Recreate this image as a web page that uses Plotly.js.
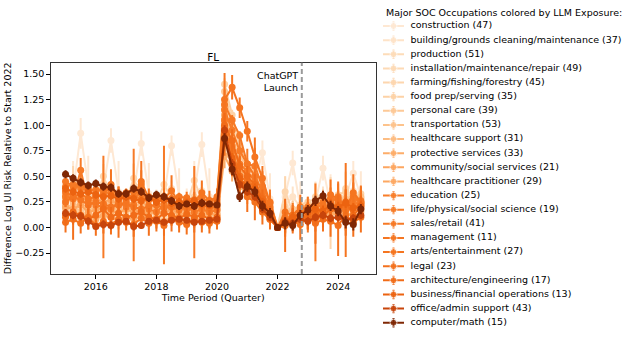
<!DOCTYPE html>
<html>
<head>
<meta charset="utf-8">
<script src="https://cdn.plot.ly/plotly-3.0.1.min.js"></script>
<style>
  html, body { margin: 0; padding: 0; background: #fff; }
  #chart { width: 634px; height: 337px; }
</style>
</head>
<body>
<div id="chart"></div>
<script>
// quarterly time points (fractional year)
const quarters = [2015.0, 2015.25, 2015.5, 2015.75, 2016.0, 2016.25, 2016.5, 2016.75,
    2017.0, 2017.25, 2017.5, 2017.75, 2018.0, 2018.25, 2018.5, 2018.75,
    2019.0, 2019.25, 2019.5, 2019.75, 2020.0, 2020.25, 2020.5, 2020.75,
    2021.0, 2021.25, 2021.5, 2021.75, 2022.0, 2022.25, 2022.5, 2022.75,
    2023.0, 2023.25, 2023.5, 2023.75, 2024.0, 2024.25, 2024.5, 2024.75];

const chatgptLaunch = 2022.8;

// occupations, ordered from lowest to highest LLM exposure
const occupations = [
    'construction (47)', 'building/grounds cleaning/maintenance (37)', 'production (51)',
    'installation/maintenance/repair (49)', 'farming/fishing/forestry (45)', 'food prep/serving (35)',
    'personal care (39)', 'transportation (53)', 'healthcare support (31)', 'protective services (33)',
    'community/social services (21)', 'healthcare practitioner (29)', 'education (25)',
    'life/physical/social science (19)', 'sales/retail (41)', 'management (11)',
    'arts/entertainment (27)', 'legal (23)', 'architecture/engineering (17)',
    'business/financial operations (13)', 'office/admin support (43)', 'computer/math (15)'
];

const colors = [
    '#fee8d3', '#fee3c8', '#fddcb9', '#fddab5', '#fdd6ae', '#fdd2a6',
    '#fdc997', '#fdc38c', '#fdbd83', '#fdad69', '#fda660', '#fda862',
    '#f87d29', '#f77b27', '#f67925', '#f57622', '#f57520', '#f3711d',
    '#f16c18', '#ec6310', '#c8450b', '#7f2704'
];

// difference in log UI risk relative to start of 2022
const construction   = [0.20,0.35,0.92,0.40, 0.30,0.38,0.85,0.35, 0.28,0.35,0.82,0.33, 0.25,0.30,0.80,0.30, 0.28,0.35,0.81,0.30, 0.28,0.98,0.80,0.55, 0.48,0.45,0.73,0.28, 0.00,0.30,0.63,0.20, 0.12,0.25,0.58,0.22, 0.20,0.30,0.53,0.30];
const building       = [0.35,0.30,0.45,0.28, 0.32,0.28,0.42,0.26, 0.30,0.27,0.40,0.25, 0.28,0.26,0.38,0.24, 0.27,0.25,0.36,0.23, 0.25,1.22,0.92,0.68, 0.55,0.48,0.45,0.25, 0.00,0.22,0.30,0.20, 0.18,0.24,0.30,0.22, 0.26,0.30,0.36,0.28];
const production     = [0.20,0.18,0.25,0.15, 0.19,0.16,0.22,0.14, 0.17,0.15,0.21,0.13, 0.16,0.14,0.20,0.12, 0.15,0.13,0.18,0.12, 0.14,1.00,0.72,0.50, 0.42,0.35,0.24,0.11, 0.00,0.08,0.12,0.13, 0.15,0.18,0.21,0.17, 0.22,0.20,0.25,0.21];
const installation   = [0.15,0.12,0.18,0.10, 0.13,0.10,0.16,0.09, 0.12,0.09,0.15,0.08, 0.11,0.08,0.14,0.08, 0.10,0.07,0.13,0.07, 0.09,0.90,0.62,0.42, 0.35,0.30,0.20,0.09, 0.00,0.06,0.09,0.11, 0.13,0.15,0.17,0.14, 0.18,0.16,0.20,0.17];
const farming        = [0.25,0.45,0.30,0.20, 0.28,0.50,0.32,0.22, 0.26,0.48,0.30,0.20, 0.24,0.42,0.28,0.18, 0.22,0.46,0.27,0.20, 0.23,0.80,0.60,0.45, 0.40,0.55,0.38,0.20, 0.00,0.35,0.15,0.10, 0.12,0.30,0.18,0.14, 0.16,0.38,0.20,0.18];
const foodPrep       = [0.30,0.35,0.28,0.32, 0.30,0.34,0.27,0.30, 0.28,0.33,0.26,0.29, 0.27,0.31,0.25,0.28, 0.26,0.30,0.24,0.27, 0.25,1.40,1.10,0.78, 0.62,0.55,0.40,0.22, 0.00,0.20,0.16,0.22, 0.25,0.28,0.30,0.26, 0.32,0.35,0.28,0.33];
const personalCare   = [0.18,0.22,0.15,0.20, 0.16,0.20,0.14,0.18, 0.15,0.19,0.13,0.16, 0.14,0.18,0.12,0.16, 0.13,0.17,0.11,0.15, 0.12,1.33,1.00,0.70, 0.60,0.52,0.35,0.16, 0.00,0.14,0.18,0.20, 0.22,0.25,0.28,0.24, 0.30,0.26,0.32,0.28];
const transportation = [0.22,0.20,0.24,0.18, 0.20,0.17,0.21,0.16, 0.18,0.15,0.20,0.14, 0.17,0.14,0.19,0.13, 0.15,0.12,0.17,0.12, 0.14,1.20,0.80,0.58, 0.50,0.42,0.30,0.15, 0.00,0.12,0.10,0.16, 0.18,0.22,0.20,0.26, 0.24,0.28,0.22,0.30];
const healthSupport  = [0.28,0.25,0.30,0.22, 0.26,0.22,0.25,0.20, 0.23,0.20,0.24,0.18, 0.21,0.19,0.22,0.17, 0.19,0.16,0.20,0.15, 0.16,1.15,0.75,0.52, 0.45,0.38,0.26,0.12, 0.00,0.10,0.08,0.14, 0.16,0.20,0.18,0.24, 0.22,0.26,0.20,0.25];
const protective     = [0.12,0.15,0.10,0.13, 0.08,0.12,0.10,0.06, 0.10,0.08,0.11,0.07, 0.09,0.06,0.10,0.08, 0.05,0.09,0.07,0.06, 0.08,0.70,0.55,0.40, 0.32,0.28,0.18,0.08, 0.00,0.03,0.06,0.10, 0.08,0.12,0.10,0.14, 0.12,0.16,0.10,0.15];
const community      = [0.32,0.28,0.30,0.26, 0.28,0.25,0.27,0.22, 0.25,0.23,0.26,0.20, 0.22,0.24,0.21,0.18, 0.20,0.22,0.19,0.17, 0.18,1.05,0.78,0.55, 0.48,0.40,0.26,0.12, 0.00,0.04,0.10,0.08, 0.12,0.16,0.13,0.20, 0.18,0.22,0.16,0.24];
const healthPract    = [0.20,0.18,0.22,0.15, 0.17,0.20,0.16,0.14, 0.18,0.15,0.17,0.13, 0.16,0.14,0.18,0.12, 0.15,0.13,0.16,0.14, 0.12,1.10,0.70,0.45, 0.40,0.35,0.22,0.10, 0.00,0.08,0.05,0.10, 0.14,0.12,0.18,0.15, 0.20,0.15,0.22,0.18];
const education      = [0.40,0.42,0.38,0.36, 0.37,0.35,0.33,0.30, 0.32,0.30,0.28,0.27, 0.29,0.27,0.26,0.24, 0.26,0.24,0.25,0.23, 0.22,1.05,0.80,0.62, 0.55,0.45,0.30,0.18, 0.00,0.10,0.08,0.15, 0.18,0.20,0.22,0.19, 0.24,0.20,0.25,0.22];
const lifeSci        = [0.30,0.28,0.56,0.25, 0.22,0.20,0.18,0.25, 0.20,0.22,0.42,0.18, 0.15,0.22,0.20,0.17, 0.20,0.15,0.18,0.15, 0.17,1.15,0.95,0.75, 0.62,0.60,0.40,0.25, 0.00,0.06,0.10,0.14, 0.10,0.05,0.15,0.25, 0.30,0.17,0.28,0.26];
const sales          = [0.45,0.40,0.42,0.38, 0.36,0.38,0.35,0.33, 0.34,0.35,0.33,0.30, 0.31,0.30,0.28,0.30, 0.29,0.27,0.28,0.26, 0.27,1.20,1.05,0.90, 0.62,0.50,0.35,0.20, 0.00,0.08,0.12,0.18, 0.20,0.22,0.25,0.28, 0.26,0.23,0.30,0.24];
const management     = [0.25,0.30,0.27,0.22, 0.25,0.23,0.20,0.22, 0.24,0.20,0.18,0.21, 0.22,0.19,0.20,0.23, 0.18,0.20,0.22,0.19, 0.20,0.95,0.75,0.50, 0.45,0.40,0.30,0.15, 0.00,0.05,0.07,0.10, 0.12,0.15,0.18,0.20, 0.22,0.18,0.20,0.23];
const arts           = [0.35,0.30,0.33,0.28, 0.30,0.32,0.42,0.30, 0.27,0.30,0.45,0.28, 0.25,0.28,0.36,0.24, 0.27,0.25,0.34,0.26, 0.30,1.25,1.37,1.17, 0.94,0.69,0.48,0.24, 0.00,0.15,0.12,0.20, 0.18,0.10,0.22,0.32, 0.28,0.17,0.34,0.25];
const legal          = [0.05,0.08,0.04,0.10, 0.02,0.06,0.03,0.08, 0.05,0.03,0.09,0.04, 0.06,0.02,0.08,0.05, 0.03,0.07,0.05,0.04, 0.06,0.90,0.65,0.50, 0.30,0.25,0.15,0.08, 0.00,0.02,0.06,0.03, 0.10,0.04,0.08,0.06, 0.02,0.12,0.05,0.10];
const architecture   = [0.10,0.15,0.12,0.08, 0.12,0.18,0.10,0.14, 0.10,0.12,0.15,0.10, 0.08,0.14,0.12,0.09, 0.13,0.10,0.12,0.08, 0.10,1.00,0.85,0.60, 0.50,0.42,0.28,0.12, 0.00,0.05,0.09,0.12, 0.08,0.14,0.11,0.18, 0.15,0.25,0.12,0.20];
const business       = [0.38,0.35,0.33,0.35, 0.32,0.30,0.31,0.28, 0.30,0.28,0.26,0.29, 0.25,0.27,0.24,0.25, 0.24,0.26,0.23,0.22, 0.24,0.85,0.68,0.48, 0.40,0.38,0.25,0.14, 0.00,0.06,0.10,0.13, 0.15,0.18,0.16,0.22, 0.20,0.24,0.19,0.21];
const office         = [0.14,0.12,0.11,0.06, 0.01,0.03,0.02,0.05, 0.06,0.01,0.02,0.06, 0.07,0.05,0.07,0.08, 0.07,0.05,0.06,0.07, 0.08,0.95,0.62,0.42, 0.35,0.30,0.18,0.10, 0.00,0.05,0.04,0.08, 0.06,0.10,0.12,0.09, 0.10,0.07,0.09,0.12];
const computer       = [0.52,0.48,0.44,0.41, 0.43,0.40,0.39,0.33, 0.33,0.38,0.35,0.29, 0.32,0.30,0.26,0.21, 0.23,0.21,0.24,0.23, 0.22,0.87,0.57,0.30, 0.40,0.35,0.21,0.14, 0.00,0.04,0.02,0.12, 0.17,0.26,0.31,0.21, 0.16,0.05,0.03,0.18];

// standard errors (drawn as +/- bars)
const constructionErr   = [0.10,0.30,0.15,0.30, 0.12,0.28,0.12,0.30, 0.10,0.28,0.12,0.30, 0.12,0.30,0.10,0.28, 0.10,0.30,0.12,0.28, 0.10,0.15,0.15,0.20, 0.15,0.20,0.12,0.25, 0.00,0.20,0.12,0.25, 0.15,0.20,0.12,0.30, 0.15,0.25,0.12,0.25];
const buildingErr       = [0.06,0.08,0.10,0.07, 0.06,0.08,0.09,0.07, 0.06,0.07,0.09,0.06, 0.06,0.07,0.08,0.06, 0.05,0.07,0.08,0.06, 0.05,0.10,0.08,0.08, 0.07,0.08,0.08,0.07, 0.00,0.08,0.10,0.08, 0.07,0.08,0.10,0.08, 0.08,0.09,0.10,0.09];
const productionErr     = [0.05,0.06,0.07,0.05, 0.05,0.06,0.06,0.05, 0.05,0.05,0.06,0.05, 0.05,0.05,0.06,0.05, 0.04,0.05,0.06,0.05, 0.04,0.08,0.07,0.06, 0.06,0.06,0.05,0.05, 0.00,0.05,0.06,0.06, 0.05,0.06,0.07,0.06, 0.06,0.07,0.07,0.06];
const installationErr   = [0.06,0.07,0.06,0.06, 0.05,0.06,0.07,0.05, 0.05,0.06,0.06,0.05, 0.05,0.06,0.06,0.05, 0.05,0.05,0.06,0.05, 0.05,0.08,0.07,0.06, 0.06,0.06,0.05,0.05, 0.00,0.06,0.06,0.05, 0.06,0.06,0.07,0.06, 0.07,0.06,0.07,0.07];
const farmingErr        = [0.08,0.15,0.10,0.08, 0.08,0.12,0.10,0.08, 0.08,0.14,0.09,0.08, 0.08,0.12,0.09,0.08, 0.08,0.13,0.09,0.08, 0.08,0.12,0.10,0.10, 0.10,0.14,0.10,0.09, 0.00,0.15,0.10,0.12, 0.10,0.14,0.12,0.35, 0.12,0.16,0.12,0.14];
const foodPrepErr       = [0.04,0.05,0.04,0.05, 0.04,0.05,0.04,0.04, 0.04,0.05,0.04,0.04, 0.04,0.04,0.04,0.04, 0.04,0.04,0.04,0.04, 0.04,0.06,0.05,0.05, 0.05,0.05,0.04,0.04, 0.00,0.04,0.05,0.05, 0.05,0.05,0.05,0.05, 0.05,0.06,0.05,0.05];
const personalCareErr   = [0.07,0.08,0.07,0.08, 0.07,0.08,0.06,0.07, 0.07,0.07,0.06,0.07, 0.06,0.07,0.06,0.07, 0.06,0.07,0.06,0.06, 0.06,0.10,0.09,0.08, 0.08,0.08,0.07,0.07, 0.00,0.07,0.08,0.08, 0.08,0.08,0.09,0.08, 0.09,0.09,0.10,0.09];
const transportationErr = [0.05,0.05,0.05,0.05, 0.04,0.05,0.05,0.04, 0.04,0.05,0.05,0.04, 0.04,0.04,0.05,0.04, 0.04,0.04,0.04,0.04, 0.04,0.07,0.06,0.05, 0.05,0.05,0.05,0.04, 0.00,0.05,0.05,0.05, 0.05,0.05,0.06,0.05, 0.06,0.06,0.06,0.06];
const healthSupportErr  = [0.08,0.09,0.08,0.08, 0.07,0.08,0.08,0.07, 0.07,0.08,0.07,0.07, 0.07,0.07,0.07,0.07, 0.06,0.07,0.07,0.06, 0.06,0.10,0.09,0.08, 0.08,0.08,0.07,0.07, 0.00,0.08,0.08,0.08, 0.08,0.09,0.09,0.08, 0.09,0.10,0.09,0.09];
const protectiveErr     = [0.09,0.10,0.09,0.09, 0.08,0.09,0.09,0.08, 0.08,0.09,0.08,0.08, 0.08,0.08,0.08,0.08, 0.07,0.08,0.08,0.07, 0.07,0.12,0.10,0.09, 0.09,0.09,0.08,0.08, 0.00,0.09,0.09,0.09, 0.09,0.10,0.10,0.09, 0.10,0.11,0.10,0.10];
const communityErr      = [0.10,0.11,0.10,0.10, 0.09,0.10,0.10,0.09, 0.09,0.10,0.09,0.09, 0.09,0.09,0.09,0.09, 0.08,0.09,0.09,0.08, 0.08,0.12,0.11,0.10, 0.10,0.10,0.09,0.09, 0.00,0.10,0.10,0.10, 0.10,0.11,0.11,0.10, 0.11,0.12,0.11,0.11];
const healthPractErr    = [0.07,0.08,0.07,0.07, 0.07,0.07,0.07,0.06, 0.06,0.07,0.06,0.06, 0.06,0.06,0.06,0.06, 0.06,0.06,0.06,0.06, 0.05,0.10,0.08,0.07, 0.07,0.07,0.06,0.06, 0.00,0.07,0.07,0.07, 0.07,0.08,0.08,0.07, 0.08,0.08,0.08,0.08];
const educationErr      = [0.06,0.07,0.06,0.06, 0.06,0.06,0.06,0.06, 0.06,0.06,0.05,0.06, 0.05,0.06,0.05,0.05, 0.05,0.05,0.05,0.05, 0.05,0.09,0.08,0.07, 0.07,0.07,0.06,0.06, 0.00,0.07,0.07,0.07, 0.07,0.07,0.08,0.07, 0.08,0.08,0.08,0.08];
const lifeSciErr        = [0.10,0.15,0.12,0.12, 0.10,0.50,0.12,0.15, 0.10,0.55,0.14,0.12, 0.10,0.58,0.12,0.14, 0.10,0.45,0.12,0.15, 0.10,0.20,0.15,0.18, 0.15,0.18,0.15,0.12, 0.00,0.15,0.14,0.12, 0.15,0.38,0.15,0.14, 0.15,0.20,0.16,0.15];
const salesErr          = [0.03,0.03,0.04,0.03, 0.03,0.03,0.03,0.03, 0.03,0.03,0.03,0.03, 0.03,0.03,0.03,0.03, 0.03,0.03,0.03,0.03, 0.03,0.05,0.04,0.04, 0.04,0.04,0.03,0.03, 0.00,0.03,0.04,0.04, 0.04,0.04,0.04,0.04, 0.04,0.04,0.04,0.04];
const managementErr     = [0.05,0.06,0.05,0.05, 0.05,0.05,0.05,0.05, 0.05,0.05,0.05,0.05, 0.05,0.05,0.05,0.05, 0.05,0.05,0.05,0.05, 0.04,0.07,0.06,0.06, 0.06,0.06,0.05,0.05, 0.00,0.05,0.06,0.06, 0.06,0.06,0.06,0.06, 0.06,0.06,0.06,0.06];
const artsErr           = [0.08,0.10,0.12,0.10, 0.08,0.10,0.15,0.10, 0.08,0.12,0.20,0.10, 0.08,0.10,0.15,0.10, 0.08,0.10,0.12,0.10, 0.08,0.26,0.12,0.10, 0.10,0.19,0.12,0.10, 0.00,0.12,0.10,0.12, 0.12,0.14,0.12,0.15, 0.15,0.46,0.18,0.15];
const legalErr          = [0.10,0.20,0.10,0.12, 0.10,0.12,0.10,0.18, 0.08,0.12,0.10,0.12, 0.10,0.10,0.12,0.10, 0.10,0.12,0.10,0.10, 0.08,0.20,0.15,0.15, 0.15,0.18,0.12,0.10, 0.00,0.26,0.12,0.15, 0.12,0.20,0.12,0.15, 0.30,0.20,0.14,0.15];
const architectureErr   = [0.08,0.12,0.10,0.10, 0.09,0.12,0.10,0.10, 0.09,0.10,0.10,0.09, 0.09,0.10,0.10,0.09, 0.09,0.10,0.09,0.09, 0.08,0.12,0.11,0.10, 0.10,0.10,0.09,0.09, 0.00,0.10,0.10,0.10, 0.10,0.11,0.11,0.10, 0.11,0.12,0.11,0.11];
const businessErr       = [0.04,0.04,0.04,0.04, 0.04,0.04,0.04,0.04, 0.04,0.04,0.04,0.04, 0.04,0.04,0.04,0.04, 0.04,0.04,0.04,0.04, 0.03,0.06,0.05,0.05, 0.05,0.05,0.04,0.04, 0.00,0.04,0.05,0.05, 0.05,0.05,0.05,0.05, 0.05,0.05,0.05,0.05];
const officeErr         = [0.04,0.04,0.04,0.04, 0.03,0.04,0.04,0.03, 0.03,0.04,0.03,0.03, 0.03,0.03,0.03,0.03, 0.03,0.03,0.03,0.03, 0.03,0.05,0.05,0.04, 0.04,0.04,0.04,0.04, 0.00,0.04,0.04,0.04, 0.04,0.04,0.04,0.04, 0.04,0.05,0.04,0.04];
const computerErr       = [0.04,0.04,0.04,0.04, 0.04,0.04,0.04,0.04, 0.04,0.04,0.04,0.04, 0.04,0.04,0.04,0.04, 0.03,0.04,0.04,0.03, 0.03,0.05,0.06,0.05, 0.05,0.05,0.05,0.05, 0.00,0.06,0.05,0.05, 0.05,0.05,0.05,0.05, 0.05,0.06,0.06,0.05];

const seriesValues = [construction, building, production, installation, farming, foodPrep,
    personalCare, transportation, healthSupport, protective, community, healthPract,
    education, lifeSci, sales, management, arts, legal, architecture, business, office, computer];
const seriesErrors = [constructionErr, buildingErr, productionErr, installationErr, farmingErr, foodPrepErr,
    personalCareErr, transportationErr, healthSupportErr, protectiveErr, communityErr, healthPractErr,
    educationErr, lifeSciErr, salesErr, managementErr, artsErr, legalErr, architectureErr, businessErr, officeErr, computerErr];

const FONT = 'DejaVu Sans, sans-serif';
const W = 634, H = 337;

// plot box in pixels (matches the matplotlib axes)
const box = { left: 50.7, right: 375.7, top: 62.7, bottom: 274 };

const traces = [];

// main series: line + markers + vertical error bars
seriesValues.forEach((vals, i) => {
    traces.push({
        x: quarters,
        y: vals,
        type: 'scatter',
        mode: 'lines+markers',
        name: occupations[i],
        line: { color: colors[i], width: 2 },
        marker: { color: colors[i], size: 7 },
        error_y: { type: 'data', array: seriesErrors[i], visible: true, color: colors[i], thickness: 2, width: 0 },
        showlegend: false,
        hoverinfo: 'skip'
    });
});

// hand-made legend on its own hidden axes (plotly's legend rows are too tall for 22 entries)
const legendRows = occupations.map((_, i) => i);
const legendX0 = 383, legendX1 = 404, legendMid = 393.5, legendTextX = 410.5;
legendRows.forEach(i => {
    traces.push({
        x: [legendX0, legendMid, legendX1],
        y: [i, i, i],
        xaxis: 'x2', yaxis: 'y2',
        type: 'scatter',
        mode: 'lines+markers',
        line: { color: colors[i], width: 2 },
        marker: { color: colors[i], size: [0, 7, 0] },
        error_y: { type: 'data', array: [0, 0.33, 0], visible: true, color: colors[i], thickness: 2, width: 0 },
        showlegend: false,
        hoverinfo: 'skip'
    });
});
traces.push({
    x: legendRows.map(() => legendTextX),
    y: legendRows,
    text: occupations,
    xaxis: 'x2', yaxis: 'y2',
    type: 'scatter',
    mode: 'text',
    textposition: 'middle right',
    textfont: { family: FONT, size: 9.5, color: '#000' },
    showlegend: false,
    hoverinfo: 'skip'
});

const legendFirst = 26, legendStep = 14.13;

const layout = {
    width: W,
    height: H,
    margin: { l: 0, r: 0, t: 0, b: 0 },
    paper_bgcolor: '#fff',
    plot_bgcolor: 'rgba(0,0,0,0)',
    font: { family: FONT, size: 9.5, color: '#000' },
    showlegend: false,
    title: {
        text: 'FL',
        x: (box.left + box.right) / 2 / W,
        xanchor: 'center',
        y: 1 - 57 / H,
        yanchor: 'middle',
        font: { family: FONT, size: 10.5, color: '#000' }
    },
    xaxis: {
        domain: [box.left / W, box.right / W],
        range: [2014.51, 2025.24],
        tickvals: [2016, 2018, 2020, 2022, 2024],
        ticktext: ['2016', '2018', '2020', '2022', '2024'],
        ticks: 'outside', ticklen: 3.5, tickwidth: 1, tickcolor: '#000',
        showline: true, mirror: true, linecolor: '#333', linewidth: 1,
        showgrid: false, zeroline: false,
        title: { text: 'Time Period (Quarter)', font: { family: FONT, size: 9.5 }, standoff: 0 }
    },
    yaxis: {
        domain: [1 - box.bottom / H, 1 - box.top / H],
        range: [-0.455, 1.611],
        tick0: -0.25, dtick: 0.25, tickformat: '.2f',
        ticks: 'outside', ticklen: 3.5, tickwidth: 1, tickcolor: '#000',
        showline: true, mirror: true, linecolor: '#333', linewidth: 1,
        showgrid: false, zeroline: false,
        title: { text: 'Difference Log UI Risk Relative to Start 2022', font: { family: FONT, size: 9.5 }, standoff: 1 }
    },
    xaxis2: {
        domain: [0.6, 1], anchor: 'y2',
        range: [0.6 * W, W],
        visible: false, fixedrange: true
    },
    yaxis2: {
        domain: [0, 1], anchor: 'x2',
        range: [(H - legendFirst) / legendStep, -legendFirst / legendStep],
        visible: false, fixedrange: true
    },
    shapes: [{
        type: 'line', xref: 'x', yref: 'y domain',
        x0: chatgptLaunch, x1: chatgptLaunch, y0: 0, y1: 1,
        line: { color: '#9a9a9a', width: 2, dash: '5px,3px' }
    }],
    annotations: [{
        text: 'ChatGPT<br>Launch',
        xref: 'x', yref: 'y domain',
        x: chatgptLaunch, y: 0.975,
        xanchor: 'right', yanchor: 'top', xshift: -2,
        align: 'right', showarrow: false,
        font: { family: FONT, size: 9.5, color: '#000' }
    }, {
        text: 'Major SOC Occupations colored by LLM Exposure:',
        xref: 'paper', yref: 'paper',
        x: 384 / W, y: 1 - 12 / H,
        xanchor: 'left', yanchor: 'middle',
        showarrow: false,
        font: { family: FONT, size: 9.5, color: '#000' }
    }]
};

Plotly.newPlot('chart', traces, layout, { displayModeBar: false, staticPlot: true });
</script>
</body>
</html>
